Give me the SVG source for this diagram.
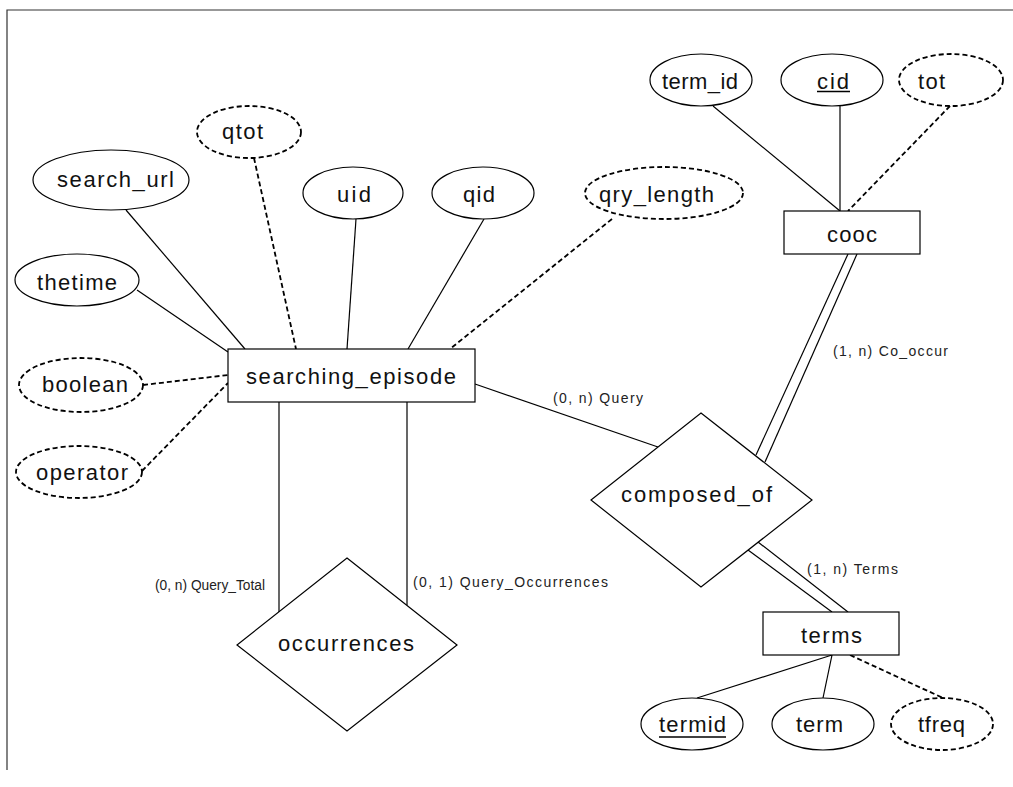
<svg xmlns="http://www.w3.org/2000/svg" width="1013" height="787" viewBox="0 0 1013 787">
<style>
.s{fill:none;stroke:#000;stroke-width:1.2}
.d{fill:none;stroke:#000;stroke-width:1.8;stroke-dasharray:5 3}
.n{fill:#fff;stroke:#000;stroke-width:1.2}
.nd{fill:#fff;stroke:#000;stroke-width:1.8;stroke-dasharray:5 3}
.t{font-family:"Liberation Sans",Arial,sans-serif;font-size:22px;fill:#111}
.l{font-family:"Liberation Sans",Arial,sans-serif;font-size:14px;fill:#222}
</style>
<rect width="1013" height="787" fill="#fff"/>
<path d="M7,770 V10 H1013" fill="none" stroke="#333" stroke-width="1.2"/>
<g id="connectors">
<line class="s" x1="126" y1="210" x2="245" y2="349"/>
<line class="d" x1="254" y1="158" x2="296" y2="349"/>
<line class="s" x1="137" y1="290" x2="228" y2="352"/>
<line class="d" x1="143" y1="385" x2="228" y2="375"/>
<line class="d" x1="142" y1="471" x2="228" y2="383"/>
<line class="s" x1="356" y1="219" x2="347" y2="349"/>
<line class="s" x1="484" y1="219" x2="408" y2="349"/>
<line class="d" x1="612" y1="219" x2="450" y2="349"/>
<line class="s" x1="713" y1="106" x2="840" y2="211"/>
<line class="s" x1="840" y1="106" x2="840" y2="211"/>
<line class="d" x1="950" y1="106" x2="848" y2="211"/>
<line class="s" x1="848" y1="254" x2="756" y2="455"/>
<line class="s" x1="857" y1="254" x2="765" y2="462"/>
<line class="s" x1="475" y1="384" x2="658" y2="447"/>
<line class="s" x1="279" y1="402" x2="279" y2="612"/>
<line class="s" x1="407" y1="402" x2="407" y2="605"/>
<line class="s" x1="748" y1="550" x2="832" y2="612"/>
<line class="s" x1="758" y1="542" x2="848" y2="612"/>
<line class="s" x1="832" y1="655" x2="697" y2="698"/>
<line class="s" x1="832" y1="655" x2="823" y2="698"/>
<line class="d" x1="850" y1="655" x2="943" y2="698"/>
<text class="l" x="553" y="403" textLength="90" lengthAdjust="spacing">(0, n) Query</text>
<text class="l" x="833" y="356" textLength="115" lengthAdjust="spacing">(1, n) Co_occur</text>
<text class="l" x="155" y="590" textLength="110" lengthAdjust="spacingAndGlyphs">(0, n) Query_Total</text>
<text class="l" x="413" y="587" textLength="195" lengthAdjust="spacing">(0, 1) Query_Occurrences</text>
<text class="l" x="807" y="574" textLength="91" lengthAdjust="spacing">(1, n) Terms</text>
</g>
<g id="searching_episode">
<rect class="n" x="228" y="349" width="247" height="53"/>
<text class="t" x="246" y="384" textLength="210" lengthAdjust="spacing">searching_episode</text>
</g>
<g id="cooc">
<rect class="n" x="784" y="211" width="136" height="43"/>
<text class="t" x="827" y="242" textLength="50" lengthAdjust="spacing">cooc</text>
</g>
<g id="terms">
<rect class="n" x="763" y="612" width="136" height="43"/>
<text class="t" x="801" y="643" textLength="61" lengthAdjust="spacing">terms</text>
</g>
<g id="composed_of">
<polygon class="n" points="701,413 812,500 701,587 591,500"/>
<text class="t" x="621" y="502" textLength="151" lengthAdjust="spacing">composed_of</text>
</g>
<g id="occurrences">
<polygon class="n" points="347,558 457,645 347,731 237,645"/>
<text class="t" x="278" y="651" textLength="136" lengthAdjust="spacing">occurrences</text>
</g>
<g id="search_url">
<ellipse class="n" cx="111" cy="180" rx="78" ry="30"/>
<text class="t" x="57" y="187" textLength="117" lengthAdjust="spacing">search_url</text>
</g>
<g id="qtot">
<ellipse class="nd" cx="249" cy="132" rx="52" ry="26"/>
<text class="t" x="222" y="139" textLength="41" lengthAdjust="spacing">qtot</text>
</g>
<g id="uid">
<ellipse class="n" cx="353" cy="193" rx="50" ry="26"/>
<text class="t" x="337" y="202" textLength="34" lengthAdjust="spacing">uid</text>
</g>
<g id="qid">
<ellipse class="n" cx="483" cy="193" rx="51" ry="26"/>
<text class="t" x="463" y="202" textLength="32" lengthAdjust="spacing">qid</text>
</g>
<g id="qry_length">
<ellipse class="nd" cx="664" cy="193" rx="79" ry="26"/>
<text class="t" x="599" y="202" textLength="115" lengthAdjust="spacing">qry_length</text>
</g>
<g id="term_id">
<ellipse class="n" cx="701" cy="80" rx="51" ry="26"/>
<text class="t" x="662" y="89" textLength="76" lengthAdjust="spacing">term_id</text>
</g>
<g id="cid">
<ellipse class="n" cx="832" cy="80" rx="51" ry="26"/>
<text class="t" x="817" y="89" textLength="32" lengthAdjust="spacing">cid</text>
<line x1="817" y1="91.5" x2="850" y2="91.5" stroke="#000" stroke-width="1.5"/>
</g>
<g id="tot">
<ellipse class="nd" cx="951" cy="80" rx="52" ry="26"/>
<text class="t" x="918" y="89" textLength="27" lengthAdjust="spacing">tot</text>
</g>
<g id="thetime">
<ellipse class="n" cx="77" cy="280" rx="62" ry="26"/>
<text class="t" x="37" y="290" textLength="80" lengthAdjust="spacing">thetime</text>
</g>
<g id="boolean">
<ellipse class="nd" cx="81" cy="385" rx="62" ry="27"/>
<text class="t" x="42" y="392" textLength="86" lengthAdjust="spacing">boolean</text>
</g>
<g id="operator">
<ellipse class="nd" cx="79" cy="472" rx="63" ry="26"/>
<text class="t" x="36" y="480" textLength="92" lengthAdjust="spacing">operator</text>
</g>
<g id="termid">
<ellipse class="n" cx="692" cy="724" rx="51" ry="26"/>
<text class="t" x="659" y="732" textLength="67" lengthAdjust="spacing">termid</text>
<line x1="659" y1="737" x2="726" y2="737" stroke="#000" stroke-width="1.5"/>
</g>
<g id="term">
<ellipse class="n" cx="823" cy="724" rx="51" ry="26"/>
<text class="t" x="796" y="732" textLength="47" lengthAdjust="spacing">term</text>
</g>
<g id="tfreq">
<ellipse class="nd" cx="942" cy="724" rx="51" ry="26"/>
<text class="t" x="918" y="732" textLength="47" lengthAdjust="spacing">tfreq</text>
</g>
</svg>
